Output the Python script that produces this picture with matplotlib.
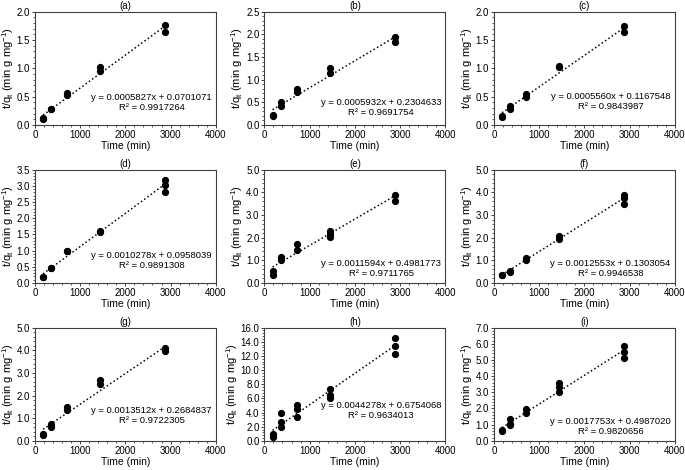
import matplotlib
matplotlib.use('Agg')
import numpy as np
import matplotlib.pyplot as plt
from matplotlib.ticker import MultipleLocator, AutoMinorLocator

plt.rcParams['font.family'] = ['Liberation Sans', 'DejaVu Sans']

time = [180, 360, 720, 1440, 2880]

# replicate t/qt values at each time point, one list per panel
qa = [[0.12, 0.11], [0.29, 0.28], [0.56, 0.53], [1.03, 0.95], [1.77, 1.65]]
qb = [[0.22, 0.20], [0.50, 0.42], [0.80, 0.72], [1.26, 1.15], [1.94, 1.84]]
qc = [[0.15, 0.16], [0.33, 0.29], [0.55, 0.50], [1.04, 1.03], [1.75, 1.64]]
qd = [[0.18, 0.17], [0.47, 0.45], [1.00, 0.98], [1.60, 1.57], [3.18, 3.02, 2.80]]
qe = [[0.37, 0.52], [1.15, 1.00], [1.70, 1.45], [2.30, 2.15, 2.04], [3.88, 3.60]]
qf = [[0.34, 0.37], [0.49, 0.51], [1.10, 1.01], [2.08, 1.92], [3.89, 3.74, 3.50]]
qg = [[0.30, 0.28], [0.75, 0.62], [1.50, 1.36], [2.70, 2.52], [4.08, 3.96]]
qh = [[0.6, 1.0], [3.95, 2.6, 2.0], [5.0, 4.5, 3.4], [7.3, 6.5, 6.0], [14.6, 13.4, 12.3]]
qi = [[0.6, 0.65], [1.38, 1.02, 0.97], [1.95, 1.75], [3.6, 3.35, 3.05], [5.85, 5.5, 5.15]]

labels = ['(a)', '(b)', '(c)', '(d)', '(e)', '(f)', '(g)', '(h)', '(i)']
slopes = [0.0005827, 0.0005932, 0.0005560, 0.0010278, 0.0011594,
          0.0012553, 0.0013512, 0.0044278, 0.0017753]
intercepts = [0.0701071, 0.2304633, 0.1167548, 0.0958039, 0.4981773,
              0.1303054, 0.2684837, 0.6754068, 0.4987020]
r2 = [0.9917264, 0.9691754, 0.9843987, 0.9891308, 0.9711765,
      0.9946538, 0.9722305, 0.9634013, 0.9820656]
ymax = [2.0, 2.5, 2.0, 3.5, 5.0, 5.0, 5.0, 16.0, 7.0]
ystep = [0.5, 0.5, 0.5, 0.5, 1.0, 1.0, 1.0, 2.0, 1.0]
data = [qa, qb, qc, qd, qe, qf, qg, qh, qi]

# vertical position (axes fraction) of the equation line per panel
eq_y = [0.24, 0.20, 0.25, 0.245, 0.175, 0.175, 0.27, 0.31, 0.17]

fig = plt.figure(figsize=(6.85, 4.70), dpi=100)
lefts = [0.051, 0.386, 0.721]
bottoms = [0.734, 0.398, 0.062]
w, h = 0.264, 0.241

for k in range(9):
    r, c = divmod(k, 3)
    ax = fig.add_axes([lefts[c], bottoms[r], w, h])
    for t, reps in zip(time, data[k]):
        ax.plot([t] * len(reps), reps, 'o', color='black', markersize=4.2,
                zorder=3)
    xs = [time[0], time[-1]]
    ax.plot(xs, [slopes[k] * x + intercepts[k] for x in xs], ':',
            color='black', linewidth=1.1)
    ax.set_xlim(0, 4000)
    ax.set_ylim(0, ymax[k])
    ax.xaxis.set_major_locator(MultipleLocator(1000))
    ax.xaxis.set_minor_locator(AutoMinorLocator(5))
    yt = np.arange(0, ymax[k] + ystep[k] / 2, ystep[k])
    ax.set_yticks(yt, labels=['%.1f' % v for v in yt])
    ax.yaxis.set_minor_locator(AutoMinorLocator(5))
    ax.tick_params(which='major', direction='out', length=2.5, width=0.7,
                   labelsize=7, pad=1, color='#404040')
    ax.tick_params(which='minor', direction='out', length=1.5, width=0.6,
                   color='#404040')
    for sp in ax.spines.values():
        sp.set_color('#404040')
        sp.set_linewidth(0.8)
    ax.set_xlabel('Time (min)', fontsize=7.5, labelpad=1)
    ax.set_ylabel('t/q$_\\mathregular{t}$ (min g mg$^\\mathregular{-1}$)',
                  fontsize=8, labelpad=0.5)
    ax.set_title(labels[k], fontsize=7, pad=2)
    ey = eq_y[k]
    ax.text(0.645, ey, 'y = %.7fx + %.7f' % (slopes[k], intercepts[k]),
            transform=ax.transAxes, ha='center', va='center', fontsize=6.8)
    ax.text(0.645, ey - 0.088, 'R² = %.7f' % r2[k],
            transform=ax.transAxes, ha='center', va='center', fontsize=6.8)

fig.savefig('out.png', dpi=100)
